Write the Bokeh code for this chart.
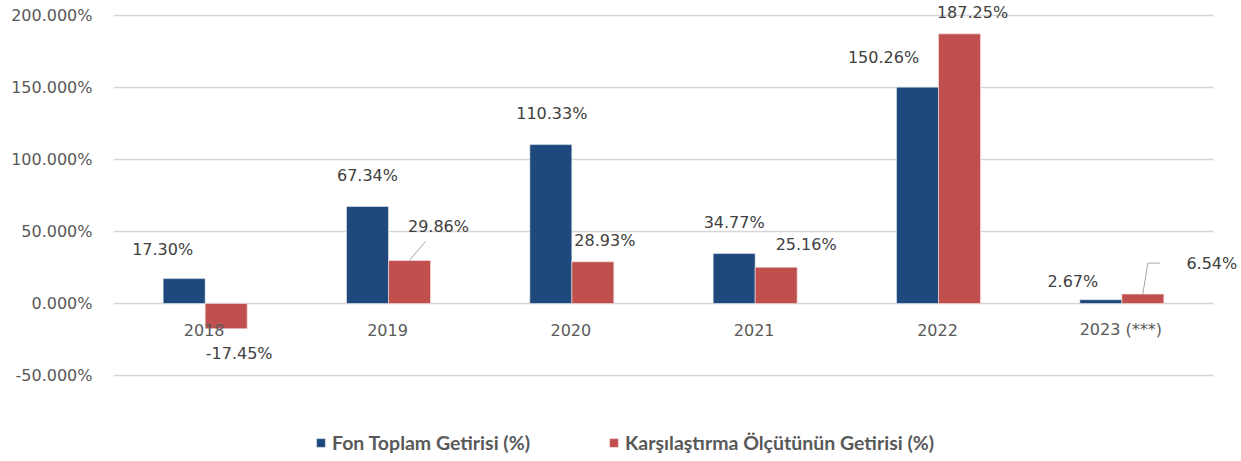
from bokeh.plotting import figure
from bokeh.models import Range1d, FixedTicker, Legend, LegendItem, ColumnDataSource, PrintfTickFormatter
from bokeh.core.properties import value
from bokeh.embed import file_html
from bokeh.resources import INLINE

# ---- data ----
years = ["2018", "2019", "2020", "2021", "2022", "2023 (***)"]
fund_returns = [17.30, 67.34, 110.33, 34.77, 150.26, 2.67]
bench_returns = [-17.45, 29.86, 28.93, 25.16, 187.25, 6.54]
series_names = ["Fon Toplam Getirisi (%)", "Karşılaştırma Ölçütünün Getirisi (%)"]
y_ticks = [-50, 0, 50, 100, 150, 200]

# ---- styling / layout ----
BLUE = "#1F497D"
RED = "#C0504D"
W, H = 1241, 461
LEFT, RIGHT = 113, 28
Y_TOP = 303 / 1.44
Y_BOT = Y_TOP - H / 1.44
NCAT = len(years)
PX_X = (W - LEFT - RIGHT) / NCAT      # pixels per category unit
PX_Y = H / (Y_TOP - Y_BOT)            # pixels per percent
BAR_W = 42 / PX_X
DODGE = 21 / PX_X
X_MAX = NCAT + RIGHT / PX_X           # frame runs to the right edge so labels are not clipped

# label pixel offsets (dx, dy; dy>0 = down)
fund_off = [(-21.5, -29), (0, -31), (1, -31), (0, -31), (-34, -30), (-28, -18)]
bench_off = [(13, 24.5), (29, -34), (12, -21), (30, -23), (13, -21), (69, -31)]

p = figure(width=W, height=H, output_backend="svg", toolbar_location=None,
           x_range=Range1d(0, X_MAX), y_range=Range1d(Y_BOT, Y_TOP),
           min_border_left=LEFT, min_border_right=0,
           min_border_top=0, min_border_bottom=0)
p.outline_line_color = None
p.background_fill_color = "white"
p.border_fill_color = "white"
p.xaxis.visible = False
p.xgrid.visible = False
p.ygrid.visible = False

p.yaxis.ticker = FixedTicker(ticks=y_ticks)
p.yaxis.formatter = PrintfTickFormatter(format="%.3f%%")
p.yaxis.axis_line_color = None
p.yaxis.major_tick_line_color = None
p.yaxis.minor_tick_line_color = None
p.yaxis.major_tick_out = 0
p.yaxis.major_label_standoff = 21
p.yaxis.major_label_text_font = "DejaVu Sans"
p.yaxis.major_label_text_font_size = "16px"
p.yaxis.major_label_text_color = "#595959"

# horizontal gridlines spanning the category area only
p.segment(x0=[0] * len(y_ticks), x1=[NCAT] * len(y_ticks), y0=y_ticks, y1=y_ticks,
          line_color="#d6d6d6", line_width=1.6)

centers = [i + 0.5 for i in range(NCAT)]
fx = [c - DODGE for c in centers]
bx = [c + DODGE for c in centers]

src_f = ColumnDataSource(dict(x=fx, top=fund_returns,
                              lbl=[f"{v:.2f}%" for v in fund_returns],
                              dx=[o[0] for o in fund_off], dy=[o[1] for o in fund_off]))
src_b = ColumnDataSource(dict(x=bx, top=bench_returns,
                              lbl=[f"{v:.2f}%" for v in bench_returns],
                              dx=[o[0] for o in bench_off], dy=[o[1] for o in bench_off]))

rf = p.vbar(x="x", top="top", bottom=0, width=BAR_W, source=src_f,
            fill_color=BLUE, line_color="#e8ecf2", line_width=0.6)
rb = p.vbar(x="x", top="top", bottom=0, width=BAR_W, source=src_b,
            fill_color=RED, line_color="#f4e4e4", line_width=0.6)

# category labels under the zero line
p.text(x=centers, y=[0] * NCAT, text=years, x_offset=-1, y_offset=26,
       text_align="center", text_baseline="middle",
       text_font=value("DejaVu Sans"), text_font_size="16px", text_color="#595959")

# data labels
for src in (src_f, src_b):
    p.text(x="x", y="top", text="lbl", x_offset="dx", y_offset="dy", source=src,
           text_align="center", text_baseline="middle",
           text_font=value("DejaVu Sans"), text_font_size="16px", text_color="#404040")

# leader lines (pixel offsets converted to data units)
def pt(xd, yd, dxp, dyp):
    return xd + dxp / PX_X, yd - dyp / PX_Y

lead_xs, lead_ys = [], []
a = pt(bx[1], bench_returns[1], -1, 1); b = pt(bx[1], bench_returns[1], 16, -19)
lead_xs.append([a[0], b[0]]); lead_ys.append([a[1], b[1]])
a = pt(bx[5], bench_returns[5], 0, 0); b = pt(bx[5], bench_returns[5], 5, -31)
c = pt(bx[5], bench_returns[5], 17, -31)
lead_xs.append([a[0], b[0], c[0]]); lead_ys.append([a[1], b[1], c[1]])
p.multi_line(xs=lead_xs, ys=lead_ys, line_color="#a6a6a6", line_width=1)

legend = Legend(items=[LegendItem(label=series_names[0], renderers=[rf]),
                       LegendItem(label=series_names[1], renderers=[rb])],
                orientation="horizontal", location=(202, 7),
                glyph_width=11, glyph_height=11, label_standoff=6,
                spacing=78, padding=0, margin=0, label_height=20,
                label_text_font="Lato",
                label_text_font_style="bold", label_text_font_size="19.5px",
                label_text_color="#595959",
                border_line_color=None, background_fill_alpha=0)
p.add_layout(legend)

open("out.html", "w").write(file_html(p, INLINE))
